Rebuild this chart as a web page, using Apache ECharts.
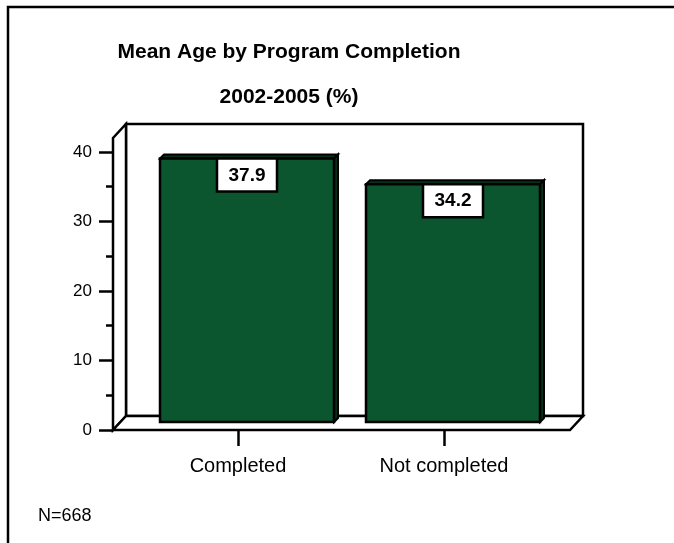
<!DOCTYPE html>
<html><head><meta charset="utf-8">
<script src="https://cdn.jsdelivr.net/npm/echarts@6/dist/echarts.min.js"></script>
<style>html,body{margin:0;padding:0;background:#fff}#c{width:674px;height:543px}</style>
</head><body><div id="c"></div>
<script>
const categories = ['Completed', 'Not completed'];
const meanAge = [37.9, 34.2];
const yMajorTicks = [0, 10, 20, 30, 40];
const yMinorTicks = [5, 15, 25, 35];
const titleLines = ['Mean Age by Program Completion', '2002-2005 (%)'];
const footnote = 'N=668';

const FONT = '"Liberation Sans", Arial, sans-serif';
const chart = echarts.init(document.getElementById('c'), null, {renderer: 'canvas'});

function renderFrame(params, api) {
  const cs = params.coordSys;
  const fl = cs.x - 22, fr = cs.x + cs.width + 23;
  const ft = cs.y, fb = cs.y + cs.height;
  const dx = 13, dy = 14;
  const st = {fill: '#fff', stroke: '#000', lineWidth: 2.5};
  return {type: 'group', children: [
    {type: 'rect', shape: {x: fl + dx, y: ft - dy, width: fr - fl, height: fb - ft}, style: st},
    {type: 'polygon', shape: {points: [[fl, ft], [fl + dx, ft - dy], [fl + dx, fb - dy], [fl, fb]]}, style: st},
    {type: 'polygon', shape: {points: [[fl, fb], [fl + dx, fb - dy], [fr + dx, fb - dy], [fr, fb]]}, style: st}
  ]};
}

function renderBar(params, api) {
  const idx = api.value(0), v = api.value(1);
  const base = api.coord([idx, 0]), top = api.coord([idx, v]);
  const cx = base[0] + 9, yb = base[1] - 8, yt = top[1] - 8;
  const hw = 87, d = 4;
  const x0 = cx - hw, x1 = cx + hw;
  const dark = '#06301a';
  return {type: 'group', children: [
    {type: 'polygon', shape: {points: [[x0, yt], [x0 + d, yt - d], [x1 + d, yt - d], [x1, yt]]}, style: {fill: dark, stroke: '#000', lineWidth: 2}},
    {type: 'polygon', shape: {points: [[x1, yt], [x1 + d, yt - d], [x1 + d, yb - d], [x1, yb]]}, style: {fill: dark, stroke: '#000', lineWidth: 2}},
    {type: 'rect', shape: {x: x0, y: yt, width: x1 - x0, height: yb - yt}, style: {fill: '#0b552f', stroke: '#000', lineWidth: 2.5}},
    {type: 'rect', shape: {x: cx - 30, y: yt, width: 60, height: 33}, style: {fill: '#fff', stroke: '#000', lineWidth: 2.5}},
    {type: 'text', x: cx, y: yt + 17, style: {text: v.toFixed(1), fill: '#000', font: 'bold 19px ' + FONT, align: 'center', verticalAlign: 'middle'}}
  ]};
}

chart.setOption({
  animation: false,
  backgroundColor: '#fff',
  title: {
    text: titleLines.join('\n'),
    left: 284, top: 25, textAlign: 'center',
    textStyle: {fontFamily: FONT, fontWeight: 'bold', fontSize: 21, lineHeight: 45, color: '#000'}
  },
  grid: {left: 135, right: 127, top: 138, bottom: 113, containLabel: false, outerBoundsMode: 'none'},
  xAxis: {
    type: 'category', data: categories,
    axisLine: {show: false, lineStyle: {color: '#000', width: 2.5}},
    axisTick: {show: true, alignWithLabel: true, length: 16, lineStyle: {color: '#000', width: 2.5}},
    axisLabel: {color: '#000', fontFamily: FONT, fontSize: 20, margin: 26},
    splitLine: {show: false}
  },
  yAxis: [{
    type: 'value', min: 0, max: 42, offset: 22, position: 'left',
    axisLine: {show: true, lineStyle: {color: '#000', width: 2.5}},
    axisTick: {show: true, customValues: yMajorTicks, length: 14, lineStyle: {color: '#000', width: 2.5}},
    axisLabel: {customValues: yMajorTicks, color: '#000', fontFamily: FONT, fontSize: 17, margin: 21},
    splitLine: {show: false}
  }, {
    type: 'value', min: 0, max: 42, offset: 22, position: 'left',
    axisLine: {show: false},
    axisTick: {show: true, customValues: yMinorTicks, length: 7, lineStyle: {color: '#000', width: 2.5}},
    axisLabel: {show: false},
    splitLine: {show: false}
  }],
  graphic: [
    {type: 'rect', shape: {x: 8, y: 7, width: 720, height: 600}, style: {fill: 'none', stroke: '#000', lineWidth: 2.5}, z: 100, silent: true},
    {type: 'text', left: 38, top: 507, style: {text: footnote, fill: '#000', font: '18px ' + FONT}}
  ],
  series: [
    {type: 'custom', renderItem: renderFrame, data: [[0, 0]], z: 1, silent: true, clip: false},
    {type: 'custom', renderItem: renderBar, data: categories.map((c, i) => [i, meanAge[i]]), encode: {x: 0, y: 1}, z: 3, clip: false}
  ]
});
</script></body></html>
